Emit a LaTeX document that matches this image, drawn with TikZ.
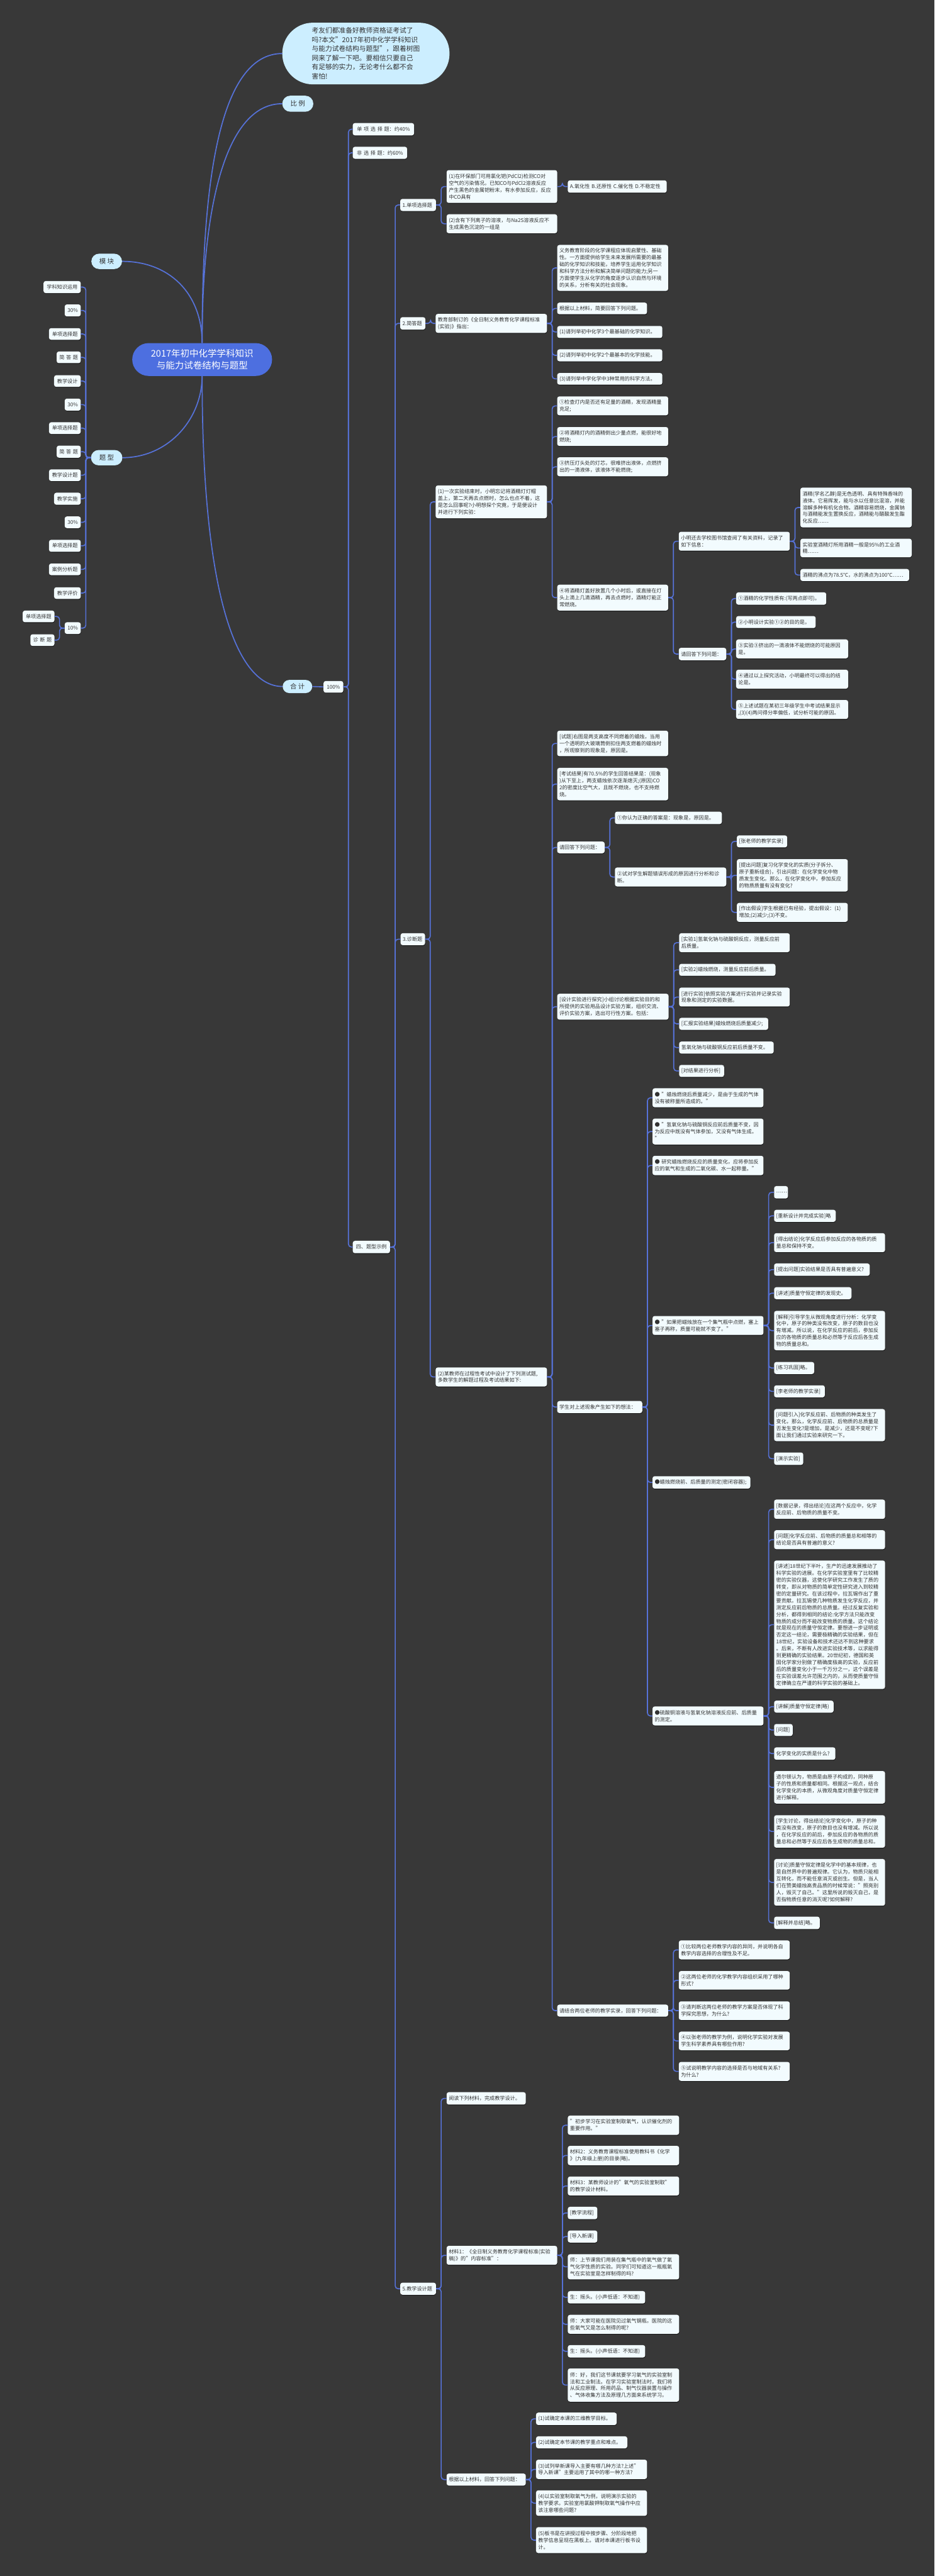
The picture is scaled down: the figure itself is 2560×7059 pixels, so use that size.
\documentclass[tikz,border=0pt]{standalone}
\usepackage{fontspec}
\setmainfont{Noto Sans CJK SC}
\usetikzlibrary{shadows}
\definecolor{bg}{HTML}{383838}
\definecolor{boxfill}{HTML}{F2FBFE}
\definecolor{pillfill}{HTML}{CCEEFF}
\definecolor{rootblue}{HTML}{4D6FE0}
\definecolor{edgeblue}{HTML}{5672D8}
\definecolor{txt}{HTML}{333333}
\newcommand\fs{\fontsize{14}{18.8}\selectfont}
\newcommand\pfs{\fontsize{18}{22}\selectfont}
\newcommand\bx[7][box]{%
  \pgfmathsetmacro\bxw{#5-#3-12}%
  \pgfmathsetmacro\bxh{#6-#4}%
  \node[#1,text width=\bxw pt,minimum height=\bxh pt,anchor=north west] (#2) at (#3,#4) {#7};}
\newcommand\cn[2]{\draw[edge] (#1.east) -- ++(14,0) |- (#2.west);}
\newcommand\cnl[2]{\draw[edge] (#1.west) -- ++(-14,0) |- (#2.east);}
\tikzset{
  box/.style={draw=none,fill=boxfill,rounded corners=6pt,inner xsep=6pt,inner ysep=2pt,
    align=left,font=\fs,text=txt,
    drop shadow={shadow xshift=0.8pt,shadow yshift=-1.8pt,opacity=0.55,fill=black}},
  boxc/.style={box,align=center},
  pill/.style={draw=none,fill=pillfill,inner sep=0pt,font=\pfs,text=txt,align=center,anchor=north west},
  edge/.style={draw=edgeblue,line width=2.8pt,rounded corners=8pt},
  rootedge/.style={draw=edgeblue,line width=3pt}
}
\begin{document}
\begin{tikzpicture}[x=1pt,y=-1pt]
\fill[bg] (0,0) rectangle (2560,7059);
\useasboundingbox (0,0) rectangle (2560,7059);

% ---------- top level ----------
\node[pill,rounded corners=84pt,minimum width=458pt,minimum height=169pt,align=left,
  font={\fontsize{18.5}{25}\selectfont}] (callout) at (773,62)
  {考友们都准备好教师资格证考试了\\吗?本文"2017年初中化学学科知识\\与能力试卷结构与题型"，跟着树图\\网来了解一下吧。要相信只要自己\\有足够的实力，无论考什么都不会\\害怕!};
\node[pill,rounded corners=22pt,minimum width=85pt,minimum height=44pt] (bili) at (773,262) {比 例};
\node[pill,rounded corners=21pt,minimum width=84pt,minimum height=42pt] (mokuai) at (250,695) {模 块};
\node[pill,rounded corners=21pt,minimum width=86pt,minimum height=42pt] (tixing) at (249,1233) {题 型};
\node[pill,rounded corners=18pt,minimum width=81pt,minimum height=36pt] (heji) at (774,1863) {合 计};
\node[draw=none,fill=rootblue,rounded corners=45pt,minimum width=383pt,minimum height=90pt,
  anchor=north west,text=white,align=center,font={\fontsize{25}{33}\selectfont}] (root) at (362,940)
  {2017年初中化学学科知识\\与能力试卷结构与题型};
\bx[boxc]{p100}{886}{1866}{940}{1898}{100\%}

\draw[rootedge] (root.north) .. controls (553,500) and (600,147) .. (callout.west);
\draw[rootedge] (root.north) .. controls (553,560) and (620,284) .. (bili.west);
\draw[rootedge] (mokuai.east) .. controls (460,716) and (553,800) .. (root.north);
\draw[rootedge] (tixing.east) .. controls (460,1254) and (553,1150) .. (root.south);
\draw[rootedge] (root.south) .. controls (553,1600) and (640,1881) .. (heji.west);
\draw[edge] (heji.east) -- (p100.west);

% ---------- left list ----------
\bx[boxc]{L1}{119}{770}{221}{803}{学科知识运用}
\bx[boxc]{L2}{177}{834}{221}{867}{30\%}
\bx[boxc]{L3}{134}{899}{221}{931}{单项选择题}
\bx[boxc]{L4}{155}{963}{221}{995}{简 答 题}
\bx[boxc]{L5}{148}{1028}{221}{1060}{教学设计}
\bx[boxc]{L6}{177}{1092}{221}{1125}{30\%}
\bx[boxc]{L7}{134}{1157}{221}{1189}{单项选择题}
\bx[boxc]{L8}{155}{1221}{221}{1254}{简 答 题}
\bx[boxc]{L9}{134}{1286}{221}{1318}{教学设计题}
\bx[boxc]{L10}{148}{1350}{221}{1383}{教学实施}
\bx[boxc]{L11}{177}{1415}{221}{1447}{30\%}
\bx[boxc]{L12}{134}{1479}{221}{1512}{单项选择题}
\bx[boxc]{L13}{134}{1544}{221}{1576}{案例分析题}
\bx[boxc]{L14}{148}{1609}{221}{1641}{教学评价}
\bx[boxc]{L15}{177}{1705}{221}{1737}{10\%}
\bx[boxc]{L16}{62}{1673}{149}{1705}{单项选择题}
\bx[boxc]{L17}{83}{1738}{149}{1770}{诊 断 题}
\foreach \c in {L1,L2,L3,L4,L5,L6,L7,L8,L9,L10,L11,L12,L13,L14,L15} {\cnl{tixing}{\c}}
\cnl{L15}{L16}
\cnl{L15}{L17}

% ---------- right trunk ----------
\bx[boxc]{s1}{966}{337}{1134}{371}{单 项 选 择 题：约40\%}
\bx[boxc]{s2}{966}{402}{1115}{435}{非 选 择 题：约60\%}
\bx[boxc]{si}{966}{3400}{1068}{3434}{四、题型示例}
\cn{p100}{s1}
\cn{p100}{s2}
\cn{p100}{si}

\bx{a1}{1096}{545}{1194}{578}{1.单项选择题}
\bx{a2}{1096}{869}{1165}{903}{2.简答题}
\bx{a3}{1097}{2557}{1164}{2590}{3.诊断题}
\bx{a5}{1096}{6255}{1194}{6288}{5.教学设计题}
\cn{si}{a1}
\cn{si}{a2}
\cn{si}{a3}
\cn{si}{a5}

% ---------- 1 ----------
\bx{a1c1}{1223}{466}{1526}{556}{(1)在环保部门可用氯化钯(PdCl2)检测CO对\\空气的污染情况。已知CO与PdCl2溶液反应\\产生黑色的金属钯粉末，有水参加反应，反应\\中CO具有}
\bx{a1c1a}{1555}{494}{1826}{528}{A.氧化性 B.还原性 C.催化性 D.不稳定性}
\bx{a1c2}{1223}{587}{1526}{639}{(2)含有下列离子的溶液，与Na2S溶液反应不\\生成黑色沉淀的一组是}
\cn{a1}{a1c1}
\cn{a1}{a1c2}
\cn{a1c1}{a1c1a}

% ---------- 2 ----------
\bx{a2c}{1193}{860}{1498}{912}{教育部制订的《全日制义务教育化学课程标准\\(实验)》指出：}
\bx{a2c1}{1526}{671}{1830}{797}{义务教育阶段的化学课程应体现启蒙性、基础\\性。一方面提供给学生未来发展所需要的最基\\础的化学知识和技能，培养学生运用化学知识\\和科学方法分析和解决简单问题的能力;另一\\方面使学生从化学的角度逐步认识自然与环境\\的关系，分析有关的社会现象。}
\bx{a2c2}{1526}{829}{1772}{861}{根据以上材料，简要回答下列问题。}
\bx{a2c3}{1526}{893}{1814}{926}{(1)请列举初中化学3个最基础的化学知识。}
\bx{a2c4}{1526}{957}{1814}{990}{(2)请列举初中化学2个最基本的化学技能。}
\bx{a2c5}{1526}{1022}{1814}{1054}{(3)请列举中学化学中3种常用的科学方法。}
\cn{a2}{a2c}
\foreach \c in {a2c1,a2c2,a2c3,a2c4,a2c5} {\cn{a2c}{\c}}

% ---------- 3 (1) ----------
\bx{b1}{1193}{1330}{1498}{1420}{(1)一次实验结束时，小明忘记将酒精灯灯帽\\盖上，第二天再去点燃时，怎么也点不着，这\\是怎么回事呢?小明想探个究竟，于是便设计\\并进行下列实验：}
\bx{b1a}{1526}{1086}{1830}{1138}{①检查灯内是否还有足量的酒精，发现酒精量\\充足;}
\bx{b1b}{1526}{1170}{1830}{1222}{②将酒精灯内的酒精倒出少量点燃，能很好地\\燃烧;}
\bx{b1c}{1526}{1253}{1830}{1305}{③挤压灯头处的灯芯，很难挤出液体，点燃挤\\出的一滴液体，该液体不能燃烧;}
\bx{b1d}{1526}{1602}{1830}{1673}{④将酒精灯盖好放置几个小时后，或直接在灯\\头上滴上几滴酒精，再去点燃时，酒精灯能正\\常燃烧。}
\bx{b1d1}{1859}{1457}{2163}{1509}{小明还去学校图书馆查阅了有关资料，记录了\\如下信息：}
\bx{b1d1a}{2192}{1336}{2497}{1445}{酒精(学名乙醇)是无色透明、具有特殊香味的\\液体。它易挥发，能与水以任意比混溶，并能\\溶解多种有机化合物。酒精容易燃烧，金属钠\\与酒精能发生置换反应，酒精能与醋酸发生酯\\化反应……}
\bx{b1d1b}{2192}{1476}{2497}{1527}{实验室酒精灯所用酒精一般是95\%的工业酒\\精……}
\bx{b1d1c}{2192}{1559}{2490}{1592}{酒精的沸点为78.5℃，水的沸点为100℃……}
\bx{b1d2}{1859}{1775}{1989}{1809}{请回答下列问题：}
\bx{b1d2a}{2016}{1623}{2263}{1657}{①酒精的化学性质有:(写两点即可)。}
\bx{b1d2b}{2016}{1688}{2234}{1721}{②小明设计实验①②的目的是。}
\bx{b1d2c}{2016}{1752}{2323}{1804}{③实验③挤出的一滴液体不能燃烧的可能原因\\是。}
\bx{b1d2d}{2016}{1835}{2323}{1887}{④通过以上探究活动，小明最终可以得出的结\\论是。}
\bx{b1d2e}{2016}{1918}{2323}{1970}{⑤上述试题在某初三年级学生中考试结果显示\\,(3)(4)两问得分率偏低，试分析可能的原因。}
\cn{a3}{b1}
\foreach \c in {b1a,b1b,b1c,b1d} {\cn{b1}{\c}}
\cn{b1d}{b1d1}
\cn{b1d}{b1d2}
\foreach \c in {b1d1a,b1d1b,b1d1c} {\cn{b1d1}{\c}}
\foreach \c in {b1d2a,b1d2b,b1d2c,b1d2d,b1d2e} {\cn{b1d2}{\c}}

% ---------- 3 (2) ----------
\bx{b2}{1193}{3747}{1498}{3799}{(2)某教师在过程性考试中设计了下列测试题,\\多数学生的解题过程及考试结果如下:}
\cn{a3}{b2}
\bx{c1}{1526}{2002}{1830}{2072}{[试题]右图是两支高度不同燃着的蜡烛，当用\\一个透明的大玻璃筒倒扣住两支燃着的蜡烛时\\，所观察到的现象是，原因是。}
\bx{c2}{1526}{2104}{1830}{2193}{[考试结果]有70.5\%的学生回答结果是：(现象\\)从下至上，两支蜡烛依次逐渐熄灭;(原因)CO\\2的密度比空气大，且既不燃烧，也不支持燃\\烧。}
\bx{c3}{1526}{2306}{1656}{2338}{请回答下列问题：}
\bx{c3a}{1684}{2224}{1977}{2258}{①你认为正确的答案是：现象是，原因是。}
\bx{c3b}{1684}{2377}{1989}{2429}{②试对学生解题错误形成的原因进行分析和诊\\断。}
\bx{c3b1}{2018}{2289}{2156}{2322}{[张老师的教学实录]}
\bx{c3b2}{2018}{2354}{2322}{2443}{[提出问题]复习化学变化的实质(分子拆分、\\原子重新组合)，引出问题：在化学变化中物\\质发生变化。那么，在化学变化中，参加反应\\的物质质量有没有变化?}
\bx{c3b3}{2018}{2474}{2322}{2526}{[作出假设]学生根据已有经验，提出假设：(1)\\增加;(2)减少;(3)不变。}
\bx{c4}{1526}{2723}{1831}{2794}{[设计实验进行探究]小组讨论根据实验目的和\\所提供的实验用品设计实验方案，组织交流、\\评价实验方案，选出可行性方案。包括：}
\bx{c4a}{1860}{2557}{2163}{2609}{[实验1]氢氧化钠与硫酸铜反应，测量反应前\\后质量。}
\bx{c4b}{1860}{2641}{2124}{2674}{[实验2]蜡烛燃烧，测量反应前后质量。}
\bx{c4c}{1860}{2706}{2163}{2758}{[进行实验]依照实验方案进行实验并记录实验\\现象和测定的实验数据。}
\bx{c4d}{1860}{2789}{2104}{2822}{[汇报实验结果]蜡烛燃烧后质量减少;}
\bx{c4e}{1860}{2854}{2119}{2887}{氢氧化钠与硫酸铜反应前后质量不变。}
\bx{c4f}{1860}{2918}{1983}{2951}{[对结果进行分析]}
\bx{c5}{1526}{3839}{1759}{3872}{学生对上述现象产生如下的想法：}
\bx{c5a}{1787}{2982}{2091}{3034}{● "蜡烛燃烧后质量减少，是由于生成的气体\\没有被称量所造成的。"}
\bx{c5b}{1787}{3065}{2091}{3136}{● "氢氧化钠与硫酸铜反应前后质量不变，因\\为反应中既没有气体参加，又没有气体生成。\\"}
\bx{c5c}{1787}{3167}{2091}{3220}{● 研究蜡烛燃烧反应的质量变化，应将参加反\\应的氧气和生成的二氧化碳、水一起称量。"}
\bx{c5d}{1787}{3606}{2091}{3658}{● "如果把蜡烛放在一个集气瓶中点燃，塞上\\塞子再称，质量可能就不变了。"}
\bx{c5e}{1787}{4045}{2055}{4079}{●蜡烛燃烧前、后质量的测定(密闭容器);}
\bx{c5f}{1787}{4676}{2091}{4728}{●硫酸铜溶液与氢氧化钠溶液反应前、后质量\\的测定。}
\bx{e1}{2120}{3250}{2158}{3284}{……}
\bx{e2}{2120}{3315}{2289}{3348}{[重新设计并完成实验]略}
\bx{e3}{2120}{3379}{2424}{3431}{[得出结论]化学反应后参加反应的各物质的质\\量总和保持不变。}
\bx{e4}{2120}{3462}{2382}{3496}{[提出问题]实验结果是否具有普遍意义?}
\bx{e5}{2120}{3527}{2332}{3560}{[讲述]质量守恒定律的发现史。}
\bx{e6}{2120}{3592}{2424}{3700}{[解释]引导学生从微观角度进行分析：化学变\\化中，原子的种类没有改变，原子的数目也没\\有增减。所以说，在化学反应的前后，参加反\\应的各物质的质量总和必然等于反应后各生成\\物的质量总和。}
\bx{e7}{2120}{3732}{2230}{3765}{[练习巩固]略。}
\bx{e8}{2120}{3796}{2259}{3829}{[李老师的教学实录]}
\bx{e9}{2120}{3861}{2424}{3949}{[问题引入]化学反应前、后物质的种类发生了\\变化，那么，化学反应前、后物质的总质量是\\否发生变化?是增加，是减少，还是不变呢?下\\面让我们通过实验来研究一下。}
\bx{e10}{2120}{3980}{2200}{4014}{[演示实验]}
\bx{f1}{2120}{4109}{2424}{4162}{[数据记录，得出结论]在这两个反应中，化学\\反应前、后物质的质量不变。}
\bx{f2}{2120}{4193}{2424}{4245}{[问题]化学反应前、后物质的质量总和相等的\\结论是否具有普遍的意义?}
\bx{f3}{2120}{4276}{2424}{4628}{[讲述]18世纪下半叶，生产的迅速发展推动了\\科学实验的进展。在化学实验室里有了比较精\\密的实验仪器，这使化学研究工作发生了质的\\转变，即从对物质的简单定性研究进入到较精\\密的定量研究。在该过程中，拉瓦锡作出了重\\要贡献。拉瓦锡使几种物质发生化学反应，并\\测定反应前后物质的总质量。经过反复实验和\\分析，都得到相同的结论:化学方法只能改变\\物质的成分而不能改变物质的质量。这个结论\\就是现在的质量守恒定律。要想进一步证明或\\否定这一结论，需要极精确的实验结果，但在\\18世纪，实验设备和技术还达不到这种要求\\。后来，不断有人改进实验技术等，以求能得\\到更精确的实验结果。20世纪初，德国和英\\国化学家分别做了精确度极高的实验，反应前\\后的质量变化小于一千万分之一，这个误差是\\在实验误差允许范围之内的，从而使质量守恒\\定律确立在严谨的科学实验的基础上。}
\bx{f4}{2120}{4660}{2283}{4693}{[讲解]质量守恒定律(略)}
\bx{f5}{2120}{4724}{2171}{4757}{[问题]}
\bx{f6}{2120}{4788}{2288}{4822}{化学变化的实质是什么?}
\bx{f7}{2120}{4853}{2424}{4942}{道尔顿认为，物质是由原子构成的，同种原\\子的性质和质量都相同。根据这一观点，结合\\化学变化的本质，从微观角度对质量守恒定律\\进行解释。}
\bx{f8}{2120}{4974}{2424}{5063}{[学生讨论，得出结论]化学变化中，原子的种\\类没有改变，原子的数目也没有增减。所以说\\，在化学反应的前后，参加反应的各物质的质\\量总和必然等于反应后各生成物的质量总和。}
\bx{f9}{2120}{5094}{2424}{5222}{[讨论]质量守恒定律是化学中的基本规律，也\\是自然界中的普遍规律。它认为，物质只能相\\互转化，而不能任意消灭或创生。但是，当人\\们在赞美蜡烛高贵品质的时候常说："照亮别\\人，毁灭了自己。"这里所说的毁灭自己，是\\否指物质任意的消灭呢?如何解释?}
\bx{f10}{2120}{5252}{2245}{5286}{[解释并总结]略。}
\bx{c6}{1526}{5493}{1830}{5526}{请结合两位老师的教学实录，回答下列问题：}
\bx{g1}{1859}{5317}{2163}{5369}{①比较两位老师教学内容的异同，并说明各自\\教学内容选择的合理性及不足。}
\bx{g2}{1859}{5401}{2163}{5452}{②这两位老师的化学教学内容组织采用了哪种\\形式?}
\bx{g3}{1859}{5484}{2163}{5535}{③请判断这两位老师的教学方案是否体现了科\\学探究思想，为什么?}
\bx{g4}{1859}{5567}{2163}{5618}{④以张老师的教学为例，说明化学实验对发展\\学生科学素养具有哪些作用?}
\bx{g5}{1859}{5650}{2163}{5702}{⑤试说明教学内容的选择是否与地域有关系?\\为什么?}
\foreach \c in {c1,c2,c3,c4,c5,c6} {\cn{b2}{\c}}
\cn{c3}{c3a}
\cn{c3}{c3b}
\foreach \c in {c3b1,c3b2,c3b3} {\cn{c3b}{\c}}
\foreach \c in {c4a,c4b,c4c,c4d,c4e,c4f} {\cn{c4}{\c}}
\foreach \c in {c5a,c5b,c5c,c5d,c5e,c5f} {\cn{c5}{\c}}
\foreach \c in {e1,e2,e3,e4,e5,e6,e7,e8,e9,e10} {\cn{c5d}{\c}}
\foreach \c in {f1,f2,f3,f4,f5,f6,f7,f8,f9,f10} {\cn{c5f}{\c}}
\foreach \c in {g1,g2,g3,g4,g5} {\cn{c6}{\c}}

% ---------- 5 ----------
\bx{d1}{1223}{5733}{1440}{5767}{阅读下列材料，完成教学设计。}
\bx{d2}{1223}{6154}{1526}{6206}{材料1：《全日制义务教育化学课程标准(实验\\稿)》的"内容标准"：}
\bx{d3}{1223}{6778}{1440}{6811}{根据以上材料，回答下列问题：}
\cn{a5}{d1}
\cn{a5}{d2}
\cn{a5}{d3}
\bx{h1}{1555}{5797}{1860}{5850}{"初步学习在实验室制取氧气，认识催化剂的\\重要作用。"}
\bx{h2}{1555}{5880}{1860}{5933}{材料2：义务教育课程标准使用教科书《化学\\》(九年级上册)的目录(略)。}
\bx{h3}{1555}{5964}{1860}{6016}{材料3：某教师设计的"氧气的实验室制取"\\的教学设计材料。}
\bx{h4}{1555}{6047}{1636}{6081}{[教学流程]}
\bx{h5}{1555}{6112}{1636}{6145}{[导入新课]}
\bx{h6}{1555}{6177}{1860}{6246}{师：上节课我们用装在集气瓶中的氧气做了氧\\气化学性质的实验。同学们可知道这一瓶瓶氧\\气在实验室是怎样制得的吗?}
\bx{h7}{1555}{6278}{1767}{6312}{生：摇头。(小声低语：不知道)}
\bx{h8}{1555}{6343}{1860}{6395}{师：大家可能在医院见过氧气钢瓶。医院的这\\些氧气又是怎么制得的呢?}
\bx{h9}{1555}{6426}{1767}{6460}{生：摇头。(小声低语：不知道)}
\bx{h10}{1555}{6490}{1860}{6581}{师：好，我们这节课就要学习氧气的实验室制\\法和工业制法。在学习实验室制法时，我们将\\从反应原理、所用药品、制气仪器装置与操作\\、气体收集方法及原理几方面来系统学习。}
\foreach \c in {h1,h2,h3,h4,h5,h6,h7,h8,h9,h10} {\cn{d2}{\c}}
\bx{k1}{1468}{6611}{1689}{6645}{(1)试确定本课的三维教学目标。}
\bx{k2}{1468}{6676}{1718}{6709}{(2)试确定本节课的教学重点和难点。}
\bx{k3}{1468}{6740}{1772}{6793}{(3)试列举新课导入主要有哪几种方法?上述"\\导入新课"主要运用了其中的哪一种方法?}
\bx{k4}{1468}{6824}{1772}{6894}{(4)以实验室制取氧气为例，说明演示实验的\\教学要求。实验室用氯酸钾制取氧气操作中应\\该注意哪些问题?}
\bx{k5}{1468}{6925}{1772}{6996}{(5)板书是在讲授过程中按步骤、分阶段地把\\教学信息呈现在黑板上。请对本课进行板书设\\计。}
\foreach \c in {k1,k2,k3,k4,k5} {\cn{d3}{\c}}
\end{tikzpicture}
\end{document}
